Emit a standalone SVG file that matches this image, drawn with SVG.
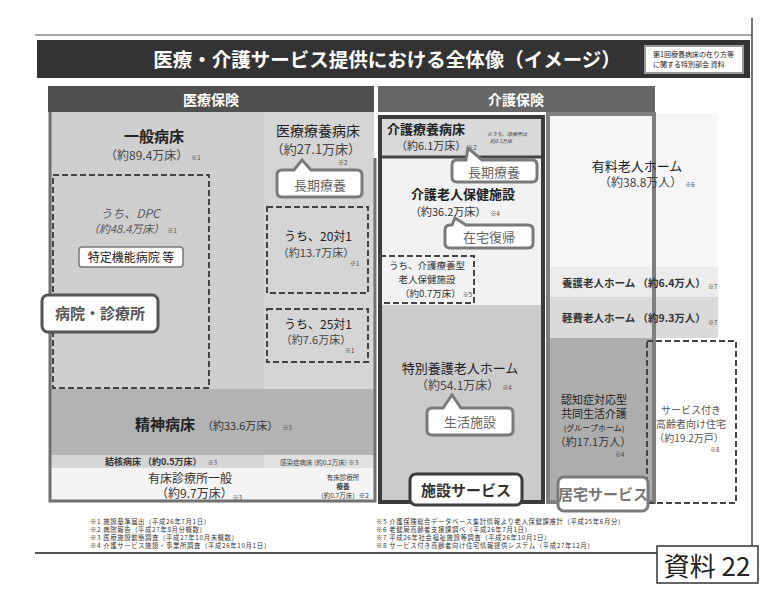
<svg xmlns="http://www.w3.org/2000/svg" width="769" height="589" viewBox="0 0 769 589">
<style>
text{font-family:"Noto Sans CJK JP","Liberation Sans",sans-serif;fill:#222}
.c{text-anchor:middle}
.b{font-weight:bold}
.g{fill:#555}
.n{font-size:6px;fill:#444;font-style:normal;font-weight:normal}
.dash{fill:none;stroke:#444;stroke-width:2;stroke-dasharray:6,3}
.co{fill:#fff;stroke:#7a7a7a;stroke-width:3}
.cot{font-size:13px;fill:#666;text-anchor:middle}
.fn{font-size:6.4px;fill:#333;letter-spacing:0.6px}
</style>
<rect width="769" height="589" fill="#fff"/>
<g id="frame">
<line x1="35" y1="35" x2="752" y2="35" stroke="#888" stroke-width="1.5"/>
<line x1="752" y1="18" x2="752" y2="546" stroke="#444" stroke-width="1.5"/>
<line x1="35" y1="553" x2="657" y2="553" stroke="#555" stroke-width="2"/>
</g>
<g id="title">
<rect x="37" y="40" width="713" height="38" fill="#333"/>
<text x="387" y="67" class="c b" style="font-size:19.5px;fill:#fff">医療・介護サービス提供における全体像（イメージ）</text>
<rect x="645" y="46" width="98" height="27" fill="#fff" stroke="#999" stroke-width="2"/>
<text x="653" y="57" style="font-size:7px">第1回療養病床の在り方等</text>
<text x="653" y="67" style="font-size:7px">に関する特別部会 資料</text>
</g>
<g id="headers">
<rect x="48" y="86" width="326" height="26" fill="#4f4f4f"/>
<text x="211" y="105" class="c b" style="font-size:14px;fill:#fff">医療保険</text>
<rect x="378" y="86" width="277" height="26" fill="#666"/>
<text x="516" y="105" class="c b" style="font-size:14px;fill:#fff">介護保険</text>
</g>
<g id="iryo">
<rect x="50" y="112" width="214" height="277" fill="#cfcfcf"/>
<rect x="264" y="112" width="110" height="277" fill="#d5d5d5"/>
<rect x="50" y="389" width="324" height="66" fill="#b3b3b3"/>
<rect x="50" y="455" width="214" height="13" fill="#d6d6d6"/>
<rect x="264" y="455" width="110" height="13" fill="#e2e2e2"/>
<rect x="50" y="468" width="324" height="33" fill="#f4f4f4"/>
<path d="M50,112 V501 H375 V158" fill="none" stroke="#707070" stroke-width="3"/>
</g>
<g id="ippan">
<text x="154" y="142" class="c b" style="font-size:15px">一般病床</text>
<text x="105" y="160" style="font-size:12px;fill:#444">（約89.4万床）<tspan class="n" dx="3">※1</tspan></text>
</g>
<g id="dpc">
<rect x="53" y="175" width="156" height="213" class="dash"/>
<text x="130" y="218" class="c g" style="font-size:12px;font-style:italic">うち、DPC</text>
<text x="88" y="233" class="g" style="font-size:11px;font-style:italic">（約48.4万床）<tspan class="n" dx="3">※1</tspan></text>
<rect x="79" y="247" width="104" height="20" rx="3" fill="#fff" stroke="#777" stroke-width="1.5"/>
<text x="131" y="262" class="c" style="font-size:12px">特定機能病院 等</text>
</g>
<g id="byouin">
<rect x="42" y="295" width="116" height="37" rx="6" fill="#fff" stroke="#555" stroke-width="3"/>
<text x="100" y="319" class="c b" style="font-size:15px;fill:#555">病院・診療所</text>
</g>
<g id="iryoryoyo">
<text x="318" y="136" class="c" style="font-size:14px">医療療養病床</text>
<text x="316" y="154" class="c" style="font-size:13px;fill:#444">（約27.1万床）</text>
<text x="338" y="165" class="n">※2</text>
<path d="M282,170 H294 L302,160 L311,170 H357 Q362,170 362,175 V192 Q362,197 357,197 H282 Q277,197 277,192 V175 Q277,170 282,170 Z" class="co"/>
<text x="320" y="190" class="cot">長期療養</text>
</g>
<g id="u20">
<rect x="267" y="207" width="101" height="86" class="dash"/>
<text x="318" y="241" class="c" style="font-size:12px">うち、20対1</text>
<text x="316" y="257" class="c" style="font-size:11px;fill:#444">（約13.7万床）</text>
<text x="350" y="266" class="n">※1</text>
</g>
<g id="u25">
<rect x="267" y="309" width="101" height="53" class="dash"/>
<text x="318" y="329" class="c" style="font-size:12px">うち、25対1</text>
<text x="316" y="344" class="c" style="font-size:11px;fill:#444">（約7.6万床）</text>
<text x="345" y="353" class="n">※1</text>
</g>
<g id="seishin">
<text x="135" y="430" class="b" style="font-size:15px">精神病床</text>
<text x="202" y="430" style="font-size:11px;fill:#333">（約33.6万床）<tspan class="n" dx="4">※3</tspan></text>
</g>
<g id="kekkaku">
<text x="105" y="465" class="b" style="font-size:9px;fill:#333">結核病床 （約0.5万床） <tspan class="n" dx="4">※3</tspan></text>
</g>
<g id="kansen">
<text x="280" y="465" style="font-size:6.5px;fill:#444">感染症病床 (約0.2万床) ※3</text>
</g>
<g id="yushou">
<text x="190" y="483" class="c" style="font-size:12px;fill:#333">有床診療所一般</text>
<text x="156" y="498" style="font-size:12px;fill:#333">（約9.7万床）<tspan class="n" dy="2">※3</tspan></text>
<text x="343" y="480" class="c" style="font-size:6.5px;fill:#333">有床診療所</text>
<text x="343" y="489" class="c b" style="font-size:6.5px;fill:#333">療養</text>
<text x="343" y="498" class="c" style="font-size:6.5px;fill:#333">（約0.7万床）※2</text>
</g>
<g id="shisetsu">
<rect x="380" y="117" width="163" height="40" fill="#d9d9d9"/>
<rect x="380" y="157" width="163" height="148" fill="#f2f2f2"/>
<rect x="380" y="305" width="163" height="196" fill="#cbcbcb"/>
<line x1="380" y1="157" x2="543" y2="157" stroke="#444" stroke-width="3"/>
<rect x="380" y="117" width="163" height="385" fill="none" stroke="#3c3c3c" stroke-width="4"/>
</g>
<g id="kaigoryoyo">
<text x="426" y="134" class="c b" style="font-size:13px">介護療養病床</text>
<text x="396" y="150" style="font-size:11px;fill:#333">（約6.1万床）<tspan class="n" dx="1">※2</tspan></text>
<text x="487" y="136" style="font-size:5px;font-style:italic;fill:#333">※うち、診療所は</text>
<text x="490" y="143" style="font-size:5px;font-style:italic;fill:#333">約0.1万床</text>
<path d="M457,160 H466 L468,148 L482,160 H532 Q537,160 537,165 V177 Q537,182 532,182 H457 Q452,182 452,177 V165 Q452,160 457,160 Z" class="co"/>
<text x="494" y="177" class="cot">長期療養</text>
</g>
<g id="roken">
<text x="463" y="199" class="c b" style="font-size:13px">介護老人保健施設</text>
<text x="410" y="216" style="font-size:11px;fill:#333">（約36.2万床）<tspan class="n" dx="4">※4</tspan></text>
<path d="M450,225 H452 L455,218 L466,225 H528 Q533,225 533,230 V243 Q533,248 528,248 H450 Q445,248 445,243 V230 Q445,225 450,225 Z" class="co"/>
<text x="489" y="242" class="cot">在宅復帰</text>
</g>
<g id="rokenryoyo">
<rect x="380" y="256" width="94" height="47" class="dash"/>
<text x="427" y="269" class="c" style="font-size:9.5px;fill:#333">うち、介護療養型</text>
<text x="427" y="283" class="c" style="font-size:9.5px;fill:#333">老人保健施設</text>
<text x="400" y="297" style="font-size:9.5px;fill:#333">（約0.7万床）<tspan class="n" dx="2">※5</tspan></text>
</g>
<g id="tokuyo">
<text x="460" y="373" class="c" style="font-size:13px">特別養護老人ホーム</text>
<text x="416" y="390" style="font-size:12px;fill:#444">（約54.1万床）<tspan class="n" dx="3">※4</tspan></text>
<path d="M432,408 H443 L452,395 L461,408 H508 Q513,408 513,413 V430 Q513,435 508,435 H432 Q427,435 427,430 V413 Q427,408 432,408 Z" class="co"/>
<text x="470" y="427" class="cot">生活施設</text>
</g>
<g id="shisetsuservice">
<rect x="410" y="474" width="112" height="31" rx="6" fill="#fff" stroke="#3c3c3c" stroke-width="3"/>
<text x="466" y="496" class="c b" style="font-size:15px;fill:#333">施設サービス</text>
</g>
<g id="kyotaku">
<rect x="546" y="113" width="172" height="154" fill="#f6f6f6"/>
<rect x="546" y="267" width="172" height="30" fill="#ececec"/>
<rect x="546" y="297" width="172" height="41" fill="#dadada"/>
<rect x="548" y="338" width="104" height="164" fill="#adadad"/>
<rect x="548" y="114" width="106" height="388" fill="none" stroke="#7e7e7e" stroke-width="4"/>
</g>
<g id="yuryo">
<text x="637" y="171" class="c" style="font-size:13px">有料老人ホーム</text>
<text x="599" y="187" style="font-size:12px;fill:#444">（約38.8万人）<tspan class="n" dx="3">※6</tspan></text>
</g>
<g id="yogo">
<text x="562" y="287" class="b" style="font-size:10.5px;fill:#333">養護老人ホーム （約6.4万人）<tspan class="n" dx="2" dy="2">※7</tspan></text>
</g>
<g id="keihi">
<text x="562" y="322" class="b" style="font-size:10.5px;fill:#333">軽費老人ホーム （約9.3万人）<tspan class="n" dx="2" dy="3">※7</tspan></text>
</g>
<g id="gh">
<text x="594" y="404" class="c" style="font-size:11px">認知症対応型</text>
<text x="594" y="418" class="c" style="font-size:11px">共同生活介護</text>
<text x="594" y="431" class="c" style="font-size:8px">(グループホーム)</text>
<text x="593" y="446" class="c" style="font-size:11px;fill:#333">（約17.1万人）</text>
<text x="615" y="457" class="n">※4</text>
</g>
<g id="sakoju">
<rect x="647" y="341" width="89" height="162" class="dash"/>
<text x="691" y="414" class="c g" style="font-size:10px">サービス付き</text>
<text x="691" y="428" class="c g" style="font-size:10px">高齢者向け住宅</text>
<text x="689" y="442" class="c g" style="font-size:10px">（約19.2万戸）</text>
<text x="710" y="452" class="n">※8</text>
</g>
<g id="kyotakuservice">
<rect x="558" y="477" width="90" height="34" rx="6" fill="#fff" stroke="#7a7a7a" stroke-width="3"/>
<text x="603" y="500" class="c b" style="font-size:15px;fill:#777">居宅サービス</text>
</g>
<g id="footnotes">
<text x="90" y="524" class="fn">※1 施設基準届出（平成26年7月1日）</text>
<text x="90" y="532" class="fn">※2 病院報告（平成27年8月分概数）</text>
<text x="90" y="540" class="fn">※3 医療施設動態調査（平成27年10月末概数）</text>
<text x="90" y="548" class="fn">※4 介護サービス施設・事業所調査（平成26年10月1日）</text>
<text x="376" y="524" class="fn">※5 介護保険総合データベース集計情報より老人保健課推計（平成25年6月分）</text>
<text x="376" y="532" class="fn">※6 老健局高齢者支援課調べ（平成26年7月1日）</text>
<text x="376" y="540" class="fn">※7 平成26年社会福祉施設等調査（平成26年10月1日）</text>
<text x="376" y="548" class="fn">※8 サービス付き高齢者向け住宅情報提供システム（平成27年12月）</text>
</g>
<g id="shiryo">
<rect x="657" y="546" width="101" height="37" fill="#fff" stroke="#333" stroke-width="1.5"/>
<text x="707" y="576" class="c" style="font-size:26px;fill:#222">資料 22</text>
</g>
</svg>
